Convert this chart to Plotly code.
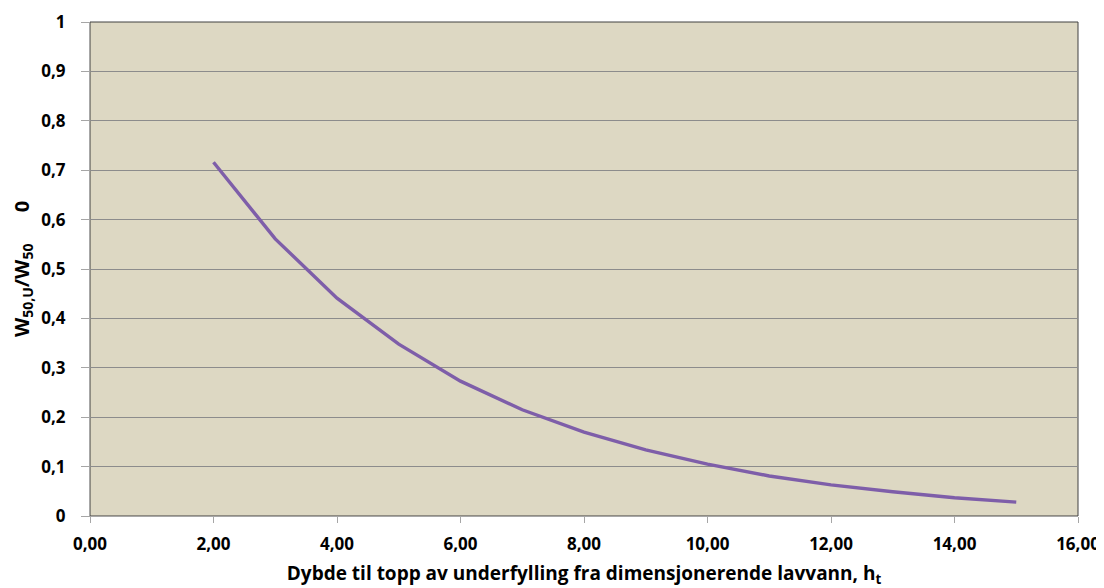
import plotly.graph_objects as go

depth = [2, 3, 4, 5, 6, 7, 8, 9, 10, 11, 12, 13, 14, 15]
ratio = [0.716, 0.561, 0.441, 0.348, 0.273, 0.215, 0.170, 0.134, 0.105, 0.081, 0.063, 0.049, 0.037, 0.028]

x_title = "Dybde til topp av underfylling fra dimensjonerende lavvann, h<sub>t</sub>"
y_title = "W<sub>50,U</sub>/W<sub>50</sub>      0"

FONT = "'Open Sans', Lato, sans-serif"

fig = go.Figure()
fig.add_trace(go.Scatter(
    x=depth, y=ratio, mode="lines",
    line=dict(color="#7E5EA9", width=3.4),
    showlegend=False, hoverinfo="x+y",
))

fig.update_layout(
    width=1096, height=580,
    margin=dict(l=82, r=26, t=14, b=72),
    paper_bgcolor="white",
    plot_bgcolor="#DDD8C3",
    separators=", ",
    font=dict(family=FONT, size=17, color="#000000"),
    xaxis=dict(
        range=[0, 16], dtick=2, tickformat=".2f",
        automargin=False,
        showgrid=False, zeroline=False,
        showline=True, linecolor="#A6A6A6", linewidth=1,
        ticks="outside", ticklen=6, tickcolor="#A6A6A6",
        ticklabelstandoff=7,
        tickfont=dict(family=FONT, size=17, color="#000000", weight="bold"),
        title=dict(text=x_title, font=dict(family=FONT, size=19, color="#000000", weight="bold"), standoff=12),
    ),
    yaxis=dict(
        range=[0, 1], dtick=0.1,
        automargin=False,
        showgrid=True, gridcolor="#8C8C8C", gridwidth=1,
        zeroline=False,
        showline=True, linecolor="#A6A6A6", linewidth=1,
        ticks="outside", ticklen=8, tickcolor="#A6A6A6",
        ticklabelstandoff=12,
        tickfont=dict(family=FONT, size=17, color="#000000", weight="bold"),
        title=dict(text=y_title, font=dict(family=FONT, size=20, color="#000000", weight="bold"), standoff=8),
    ),
    shapes=[dict(type="rect", xref="paper", yref="paper", x0=0, y0=0, x1=1, y1=1,
                 line=dict(color="#404040", width=1), layer="below")],
)

fig.write_html("out.html")
